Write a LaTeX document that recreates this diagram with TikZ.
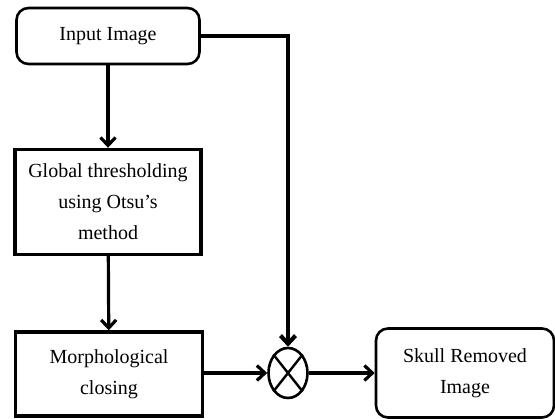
\documentclass[tikz,border=0pt]{standalone}
\usepackage{fontspec}
\setmainfont{Liberation Serif}
\usetikzlibrary{arrows.meta, shapes.geometric}

\begin{document}
\begin{tikzpicture}[
    x=1pt, y=-1pt,
    font=\fontsize{20}{31}\selectfont,
    box/.style={rectangle, draw, line width=3.4pt, align=center, inner sep=0pt},
    rbox/.style={box, rounded corners=12pt, line width=2.6pt},
    arrow/.style={-{Straight Barb[length=8pt, width=15pt]}, line width=3.2pt}
]
\useasboundingbox (0,0) rectangle (555,419);

\node[rbox, minimum width=183pt, minimum height=56pt] (input) at (108,36) {Input Image};
\node[box, minimum width=186pt, minimum height=105pt] (global) at (108,202) {Global thresholding\\using Otsu's\\method};
\node[box, minimum width=187pt, minimum height=84pt] (morph) at (109,374) {Morphological\\closing};
\node[ellipse, draw, line width=2.6pt, minimum width=39pt, minimum height=50pt, inner sep=0pt] (mult) at (288,373) {};
\node[rbox, minimum width=178pt, minimum height=89pt] (skull) at (465,373) {Skull Removed\\Image};

\draw[line width=2.4pt] (mult.north west) -- (mult.south east);
\draw[line width=2.4pt] (mult.north east) -- (mult.south west);

\draw[arrow] (input) -- (global);
\draw[arrow] (global) -- (morph);
\draw[arrow] (morph.east |- mult.west) -- (mult.west);
\draw[arrow] (mult) -- (skull);
\draw[arrow, line width=4.2pt] (input.east) -| (mult.north);
\end{tikzpicture}
\end{document}
